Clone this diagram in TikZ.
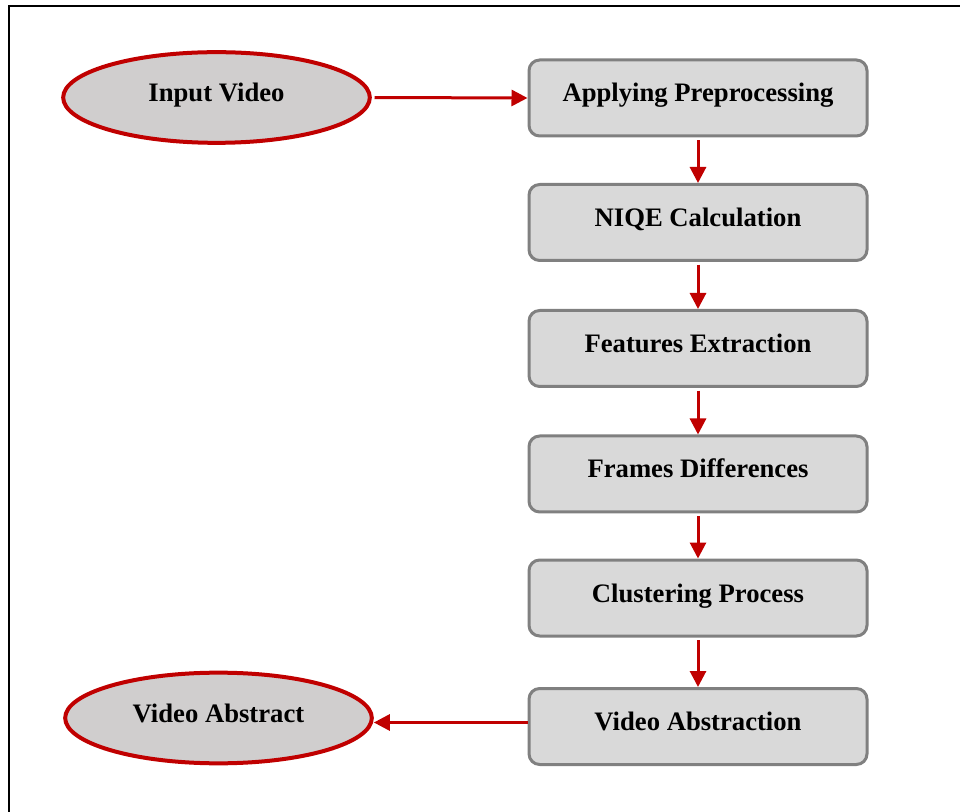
\documentclass[tikz,border=0pt]{standalone}
\usepackage{fontspec}
\setmainfont{Liberation Serif}
\usetikzlibrary{shapes.geometric,arrows.meta}
\definecolor{flowred}{RGB}{192,0,0}
\definecolor{boxgray}{RGB}{128,128,128}
\definecolor{boxfill}{RGB}{217,217,217}
\definecolor{ovalfill}{RGB}{208,206,206}

\begin{document}
\begin{tikzpicture}[x=0.75pt,y=0.75pt,yscale=-1,xscale=1,
  stepbox/.style={draw=boxgray,fill=boxfill,line width=2.25pt,rounded corners=8pt,
    minimum width=253.5pt,minimum height=57pt,inner sep=0pt,
    text height=14pt,text depth=8pt,font=\fontsize{20}{24}\selectfont\bfseries},
  endoval/.style={ellipse,draw=flowred,fill=ovalfill,line width=3pt,
    minimum width=230pt,minimum height=68pt,inner sep=0pt,
    text height=14pt,text depth=8pt,font=\fontsize{20}{24}\selectfont\bfseries},
  flow/.style={draw=flowred,line width=2.25pt,-{Triangle[length=12pt,width=12pt]}}]
\useasboundingbox (0,0) rectangle (960,812);
% frame
\draw[line width=1.5pt] (9,812) -- (9,6) -- (960,6);
% Text Node
\draw (216.5,97.5) node [endoval] (invideo) {Input Video};
% Text Node
\draw (698,98) node [stepbox] (prep) {Applying Preprocessing};
% Text Node
\draw (698,222.5) node [stepbox] (niqe) {NIQE Calculation};
% Text Node
\draw (698,348.5) node [stepbox] (feat) {Features Extraction};
% Text Node
\draw (698,474) node [stepbox] (fdiff) {Frames Differences};
% Text Node
\draw (698,598) node [stepbox] (clust) {Clustering Process};
% Text Node
\draw (698,726.5) node [stepbox] (vabs) {Video Abstraction};
% Text Node
\draw (218.5,718) node [endoval] (outabs) {Video Abstract};
% arrows
\draw[flow,shorten <=2pt] (invideo.east) -- (prep.west);
\draw[flow,shorten <=2pt] (prep) -- (niqe);
\draw[flow,shorten <=2pt] (niqe) -- (feat);
\draw[flow,shorten <=2pt] (feat) -- (fdiff);
\draw[flow,shorten <=2pt] (fdiff) -- (clust);
\draw[flow,shorten <=2pt] (clust) -- (vabs);
\draw[flow] ([yshift=-3pt]vabs.west) -- ([yshift=-3pt]vabs.west -| outabs.east);
\end{tikzpicture}
\end{document}
